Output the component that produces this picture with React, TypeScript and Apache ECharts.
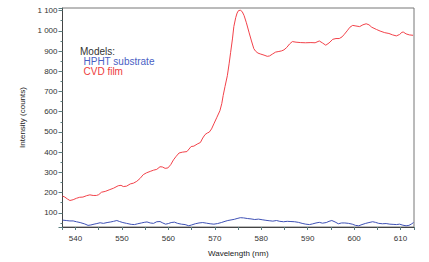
import React, { useEffect, useRef } from "react";
import * as echarts from "echarts";

const redWavelengths = [
  537.2, 537.7, 538.3, 538.8, 539.5, 540.2, 540.9, 541.6, 542.4, 543.1, 543.8, 544.5, 545.0, 545.6, 546.4,
  547.4, 548.2, 549.2, 549.8, 550.3, 551.0, 551.8, 552.5, 553.2, 553.9, 554.6, 555.3, 556.1, 556.8, 557.5,
  558.2, 558.7, 559.3, 559.9, 560.5, 561.1, 561.7, 562.3, 563.0, 564.0, 564.9, 565.5, 566.2, 566.9, 567.4,
  567.9, 568.4, 568.8, 569.3, 569.8, 570.4, 571.1, 571.5, 571.8, 572.2, 572.7, 573.1, 573.4, 573.8, 574.1,
  574.5, 574.8, 575.1, 575.5, 575.9, 576.3, 576.8, 577.4, 577.9, 578.4, 578.8, 579.3, 579.9, 580.6, 581.3,
  581.8, 582.4, 583.1, 583.8, 584.4, 584.9, 585.5, 586.1, 586.7, 587.5, 588.5, 589.5, 590.7, 591.6, 592.5,
  593.2, 593.9, 594.6, 595.4, 596.1, 596.8, 597.4, 597.9, 598.5, 599.1, 599.7, 600.4, 601.2, 601.9, 602.6,
  603.2, 603.8, 604.8, 605.6, 606.6, 607.5, 608.3, 609.1, 609.8, 610.3, 610.6, 611.2, 611.9, 612.7,
];
const redCounts = [
  183, 178, 168, 161, 165, 172, 177, 178, 185, 189, 186, 186, 190, 202, 206,
  215, 222, 234, 236, 230, 232, 243, 247, 256, 270, 289, 298, 305, 311, 315,
  328, 327, 320, 322, 338, 362, 380, 396, 400, 403, 428, 430, 440, 448, 470,
  487, 495, 499, 515, 540, 570, 605, 640, 680, 725, 778, 840, 892, 960, 1021,
  1065, 1088, 1100, 1102, 1095, 1076, 1040, 990, 950, 912, 899, 890, 885, 880, 874,
  876, 885, 895, 898, 901, 906, 918, 935, 947, 944, 942, 941, 942, 941, 950,
  940, 929, 940, 958, 962, 962, 970, 983, 1000, 1018, 1027, 1024, 1021, 1030, 1035,
  1030, 1018, 1007, 999, 991, 987, 980, 975, 982, 993, 994, 985, 980, 978,
];

const blueWavelengths = [
  537.2, 538.0, 538.8, 539.5, 540.2, 541.0, 542.0, 542.7, 543.3, 544.0, 544.6, 545.3, 546.0, 546.8, 547.6,
  548.2, 548.9, 549.5, 550.2, 551.0, 552.0, 552.7, 553.4, 554.2, 554.8, 555.4, 556.1, 556.8, 557.5, 558.2,
  558.8, 559.4, 560.0, 560.6, 561.3, 562.0, 562.8, 563.6, 564.4, 565.0, 565.8, 566.6, 567.4, 568.2, 569.0,
  569.8, 570.6, 571.4, 572.2, 572.8, 573.5, 574.2, 574.8, 575.5, 576.2, 577.0, 577.8, 578.6, 579.4, 580.2,
  581.0, 581.7, 582.5, 583.3, 584.0, 584.8, 585.6, 586.4, 587.2, 588.0, 588.8, 589.6, 590.4, 591.0, 591.8,
  592.5, 593.2, 594.0, 594.6, 595.2, 595.9, 596.6, 597.3, 598.0, 598.8, 599.6, 600.3, 601.0, 601.7, 602.5,
  603.2, 604.0, 604.6, 605.3, 606.1, 606.9, 607.7, 608.4, 609.1, 609.8, 610.5, 611.2, 611.8, 612.3, 612.8,
];
const blueCounts = [
  64, 62, 60, 60, 56, 52, 45, 38, 40, 44, 47, 51, 48, 52, 55,
  58, 62, 57, 52, 48, 43, 42, 46, 50, 53, 55, 50, 48, 56, 57,
  50, 44, 47, 52, 54, 48, 44, 42, 36, 40, 46, 50, 52, 49, 46,
  44, 47, 52, 58, 62, 65, 68, 72, 76, 75, 72, 70, 67, 69, 66,
  63, 61, 59, 62, 58, 56, 58, 57, 56, 53, 48, 44, 42, 45, 50,
  53, 49, 52, 58, 62, 55, 46, 50, 50, 48, 44, 38, 36, 42, 48,
  52, 56, 53, 48, 46, 47, 44, 43, 42, 44, 39, 36, 38, 44, 52,
];

const legendTitle = "Models:";
const seriesNames = ["HPHT substrate", "CVD film"];
const xAxisTitle = "Wavelength (nm)";
const yAxisTitle = "Intensity (counts)";

const RED = "#f2424a";
const BLUE = "#3f51b5";
const FONT = "'Liberation Sans', Arial, sans-serif";

function fmtThousands(v: number): string {
  const s = String(Math.round(v));
  return s.replace(/\B(?=(\d{3})+(?!\d))/g, " ");
}

export default function App() {
  const ref = useRef<HTMLDivElement>(null);
  useEffect(() => {
    if (!ref.current) return;
    const chart = echarts.init(ref.current, undefined, { renderer: "svg" });
    const red = redWavelengths.map((w, i) => [w, redCounts[i]]);
    const blue = blueWavelengths.map((w, i) => [w, blueCounts[i]]);
    chart.setOption({
      animation: false,
      backgroundColor: "#ffffff",
      textStyle: { fontFamily: FONT },
      grid: {
        left: 62.5,
        top: 8,
        right: 15,
        bottom: 32,
        show: true,
        borderColor: "#777",
        borderWidth: 1,
        backgroundColor: "transparent",
      },
      xAxis: {
        type: "value",
        min: 537.2,
        max: 612.9,
        minInterval: 5,
        maxInterval: 5,
        name: xAxisTitle,
        nameLocation: "middle",
        nameGap: 22,
        nameTextStyle: { fontSize: 8, color: "#222", fontFamily: FONT },
        axisLine: { show: true, lineStyle: { color: "#444", width: 1 } },
        axisTick: { show: true, length: 3, lineStyle: { color: "#5a7f80" } },
        axisLabel: {
          fontSize: 8,
          color: "#333",
          margin: 7,
          fontFamily: FONT,
          formatter: (v: number) => (Math.abs(v % 10) < 1e-6 ? String(v) : ""),
        },
        splitLine: { show: false },
      },
      yAxis: {
        type: "value",
        min: 30,
        max: 1113,
        minInterval: 100,
        maxInterval: 100,
        name: yAxisTitle,
        nameLocation: "middle",
        nameGap: 28,
        nameTextStyle: { fontSize: 8, color: "#222", fontFamily: FONT },
        axisLine: { show: true, lineStyle: { color: "#444", width: 1 } },
        axisTick: { show: true, length: 4, lineStyle: { color: "#5a7f80" } },
        minorTick: { show: true, splitNumber: 2, length: 2, lineStyle: { color: "#5a7f80" } },
        axisLabel: {
          fontSize: 8,
          color: "#333",
          margin: 5,
          fontFamily: FONT,
          formatter: (v: number) => (Math.abs(v % 100) < 1e-6 ? fmtThousands(v) : ""),
        },
        splitLine: { show: false },
        minorSplitLine: { show: false },
      },
      series: [
        {
          name: seriesNames[0],
          type: "line",
          data: blue,
          showSymbol: false,
          symbol: "none",
          lineStyle: { color: BLUE, width: 1 },
          itemStyle: { color: BLUE },
        },
        {
          name: seriesNames[1],
          type: "line",
          data: red,
          showSymbol: false,
          symbol: "none",
          lineStyle: { color: RED, width: 1 },
          itemStyle: { color: RED },
        },
      ],
      graphic: [
        {
          type: "text",
          left: 80,
          top: 46,
          style: { text: legendTitle, fontSize: 10, fill: "#333", fontFamily: FONT },
        },
        {
          type: "text",
          left: 83.5,
          top: 56.5,
          style: { text: seriesNames[0], fontSize: 10, fill: "#4a5fc4", fontFamily: FONT },
        },
        {
          type: "text",
          left: 83.5,
          top: 66.5,
          style: { text: seriesNames[1], fontSize: 10, fill: "#ee3b3b", fontFamily: FONT },
        },
      ],
    });
    return () => chart.dispose();
  }, []);
  return (
    <div
      ref={ref}
      style={{ position: "fixed", left: 0, top: 0, width: 429, height: 262, background: "#fff" }}
    />
  );
}
